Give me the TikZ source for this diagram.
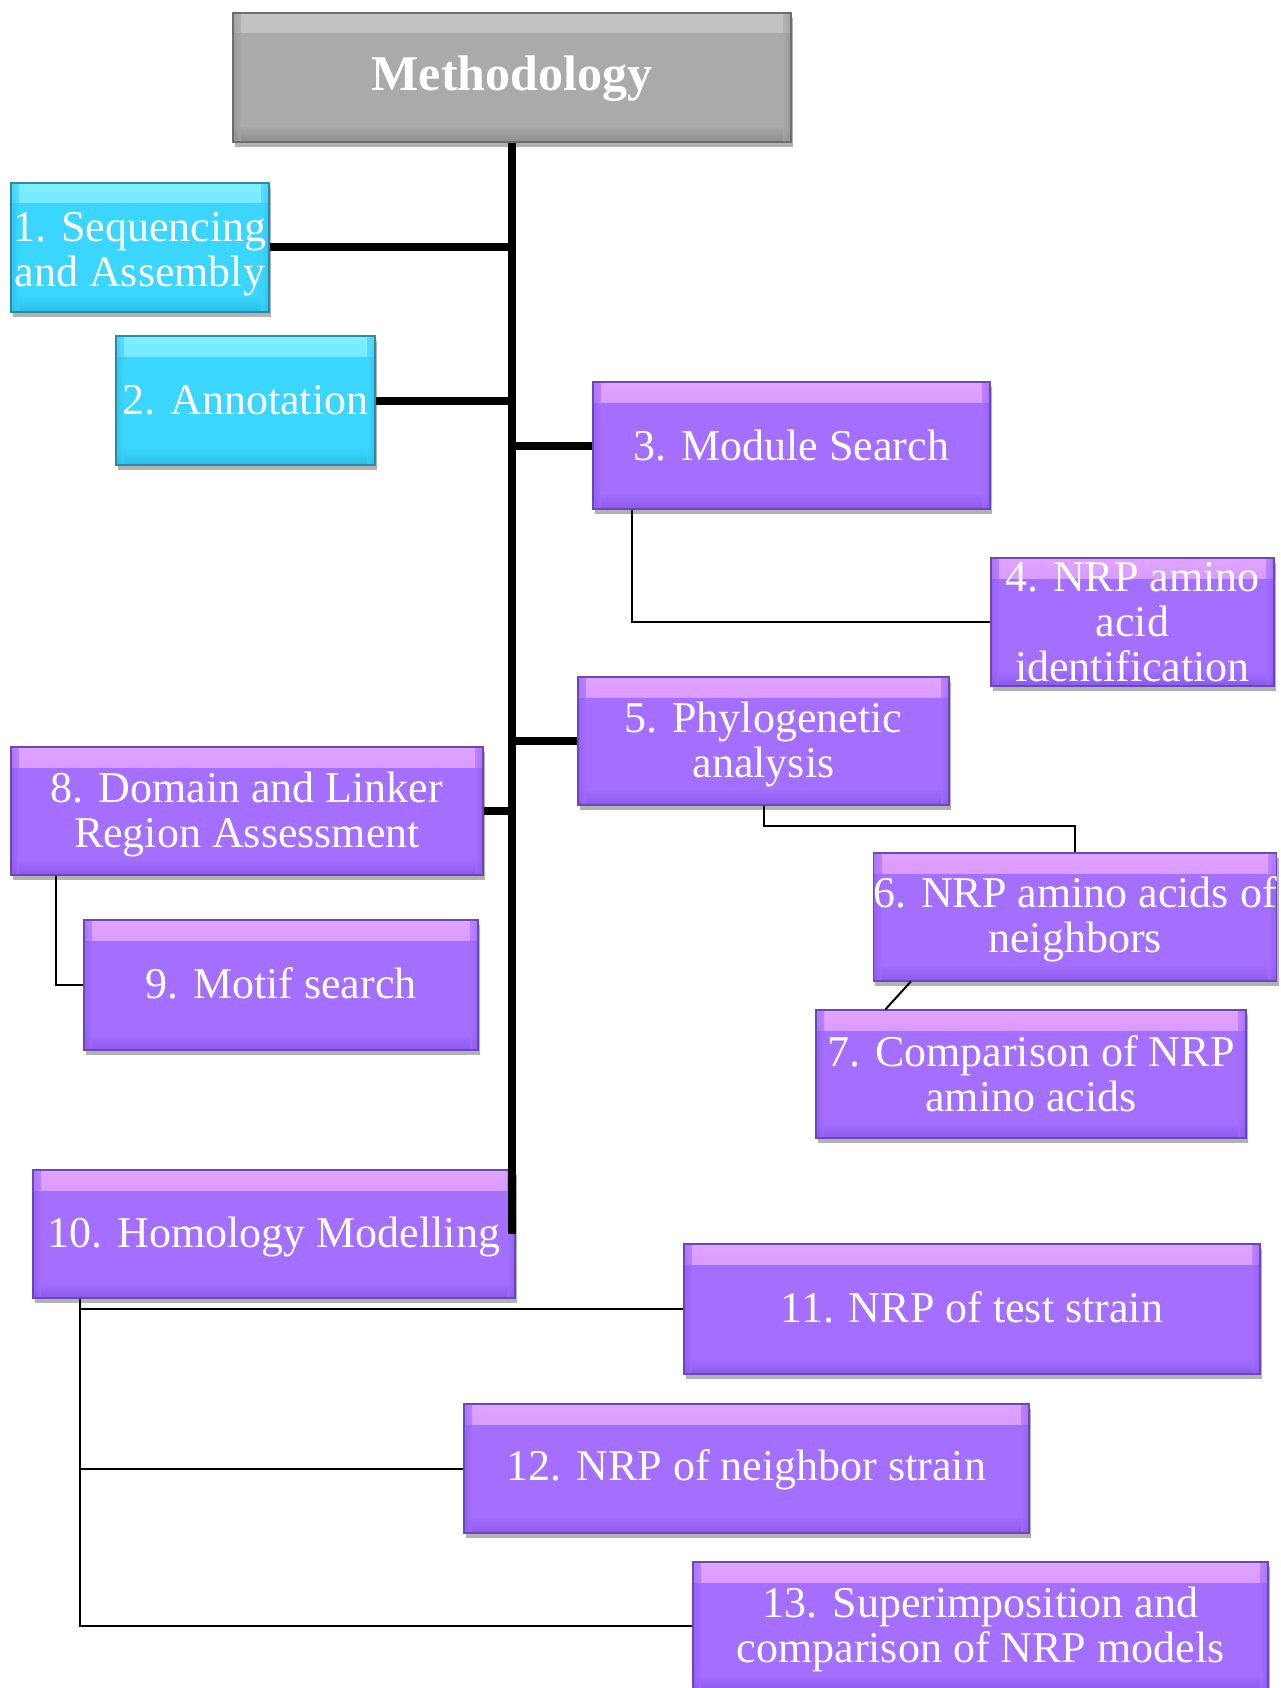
\documentclass[tikz,border=0pt]{standalone}
\usepackage{fontspec}
\setmainfont{Liberation Serif}
\usetikzlibrary{shadows}
\definecolor{pbase}{HTML}{A46FFF}
\definecolor{ptop}{HTML}{E2A4FF}
\definecolor{pbot}{HTML}{8A58EA}
\definecolor{pedge}{HTML}{6A48B8}
\definecolor{cbase}{HTML}{3AD6FF}
\definecolor{ctop}{HTML}{80EEFF}
\definecolor{cbot}{HTML}{2CBDE8}
\definecolor{cedge}{HTML}{2A8AAA}
\definecolor{gbase}{HTML}{AAAAAA}
\definecolor{gtop}{HTML}{C4C4C4}
\definecolor{gbot}{HTML}{8E8E8E}
\definecolor{gedge}{HTML}{6E6E6E}
\newcommand\tup[1]{\rule{0pt}{#1}}
\newcommand\tdn[1]{\rule[-#1]{0pt}{#1}}
\tikzset{
  bevelbox/.style={rectangle, inner sep=0pt, align=center, text=white,
    font=\fontsize{44}{45}\selectfont,
    draw=#1edge, line width=1.2pt, fill=#1base,
    drop shadow={shadow xshift=2pt, shadow yshift=-5pt, fill=black, opacity=0.3},
    path picture={
      \shade[top color=#1top, bottom color=#1base]
        (path picture bounding box.north west) rectangle ([yshift=-20pt]path picture bounding box.north east);
      \shade[top color=#1base, bottom color=#1bot]
        ([yshift=16pt]path picture bounding box.south west) rectangle (path picture bounding box.south east);
      \shade[left color=#1bot, right color=#1base, opacity=0.6]
        (path picture bounding box.north west) rectangle ([xshift=8pt]path picture bounding box.south west);
      \shade[left color=#1base, right color=#1bot, opacity=0.6]
        ([xshift=-8pt]path picture bounding box.north east) rectangle (path picture bounding box.south east);
    }},
  pbox/.style={bevelbox=p},
  cbox/.style={bevelbox=c},
  gbox/.style={bevelbox=g, font=\bfseries\fontsize{50}{52}\selectfont},
  trunkline/.style={line width=8pt, black},
  thinline/.style={line width=2pt, black},
}
\begin{document}
\begin{tikzpicture}[x=1pt, y=-1pt]
\useasboundingbox[fill=white] (0,0) rectangle (1281,1688);

\node[gbox, minimum width=558pt, minimum height=129pt] (meth) at (512,77.5) {\tup{38pt}Methodology};
\node[cbox, minimum width=258pt, minimum height=129pt] (b1) at (140,247.5) {\tup{42pt}1. Sequencing\\and Assembly};
\node[cbox, minimum width=259pt, minimum height=129pt] (b2) at (245.5,400.5) {2. Annotation};
\node[pbox, minimum width=397pt, minimum height=127pt] (b3) at (791.5,445.5) {3. Module Search};
\node[pbox, minimum width=283pt, minimum height=128pt] (b4) at (1132.5,622) {4. NRP amino\\acid\\identification};
\node[pbox, minimum width=371pt, minimum height=128pt] (b5) at (763.5,741) {\tup{37pt}5. Phylogenetic\\analysis};
\node[pbox, minimum width=398pt, minimum height=128pt] (b6) at (1075,917) {\tup{36pt}6. NRP amino acids of\\neighbors};
\node[pbox, minimum width=430pt, minimum height=128pt] (b7) at (1031,1074) {7. Comparison of NRP\\amino acids};
\node[pbox, minimum width=472pt, minimum height=128pt] (b8) at (247,811) {\tup{37pt}8. Domain and Linker\\Region Assessment};
\node[pbox, minimum width=394pt, minimum height=130pt] (b9) at (281,985) {9. Motif search\tdn{4pt}};
\node[pbox, minimum width=482pt, minimum height=128pt] (b10) at (274,1234) {\tup{36pt}10. Homology Modelling};
\node[pbox, minimum width=576pt, minimum height=130pt] (b11) at (972,1309) {11. NRP of test strain\tdn{4pt}};
\node[pbox, minimum width=565pt, minimum height=129pt] (b12) at (746.5,1468.5) {\tup{34pt}12. NRP of neighbor strain};
\node[pbox, minimum width=575pt, minimum height=128pt] (b13) at (980.5,1626) {\tup{38pt}13. Superimposition and\\comparison of NRP models};

% trunk and main branches
\draw[trunkline] (meth.south) -- (meth.south |- b10.east);
\draw[trunkline] (b1.east) -- (b1.east -| meth.south);
\draw[trunkline] (b2.east) -- (b2.east -| meth.south);
\draw[trunkline] (b3.west) -- (b3.west -| meth.south);
\draw[trunkline] (b5.west) -- (b5.west -| meth.south);
\draw[trunkline] (b8.east) -- (b8.east -| meth.south);

% secondary connectors
\draw[thinline] ([xshift=40pt]b3.south west) |- (b4.west);
\draw[thinline] (b5.south) -- ++(0,20) -| (b6.north);
\draw[thinline] ([xshift=38pt]b6.south west) -- ([xshift=70pt]b7.north west);
\draw[thinline] ([xshift=46pt]b8.south west) |- (b9.west);
\draw[thinline] ([xshift=48pt]b10.south west) |- (b11.west);
\draw[thinline] ([xshift=48pt]b10.south west) |- (b12.west);
\draw[thinline] ([xshift=48pt]b10.south west) |- (b13.west);
\end{tikzpicture}
\end{document}
